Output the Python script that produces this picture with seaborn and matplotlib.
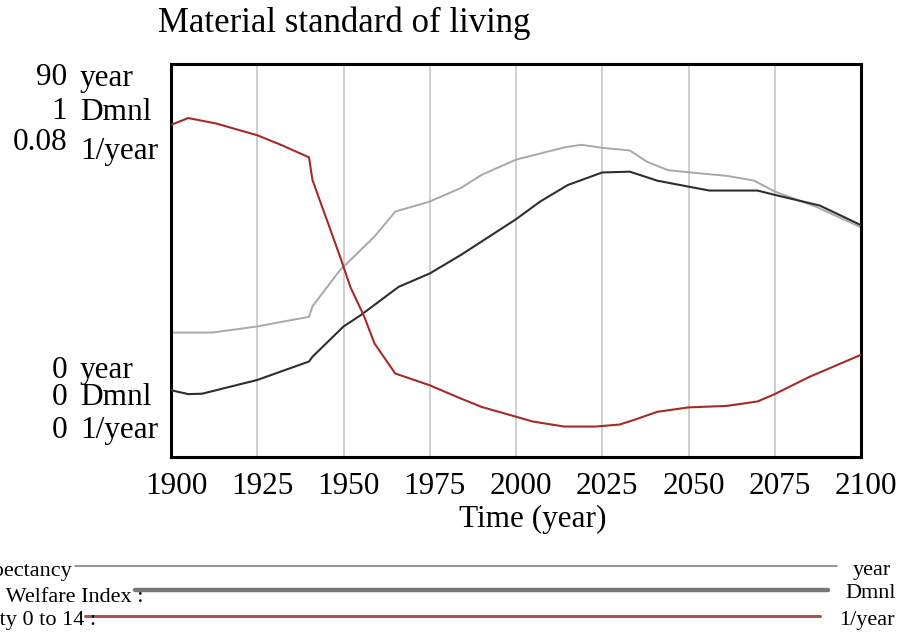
import numpy as np
import pandas as pd
import seaborn as sns
import matplotlib.pyplot as plt
import matplotlib.transforms as mtransforms

# =========================
# Data
# =========================
LIFE_YEARS = [1900, 1912, 1925, 1940, 1941, 1949, 1959, 1965, 1975, 1984, 1990, 2000,
              2014, 2019, 2025, 2033, 2038, 2044, 2050, 2061, 2069, 2075, 2087, 2100]
LIFE_EXPECTANCY = [28.5, 28.5, 29.9, 32.1, 34.5, 42.8, 50.5, 56.2, 58.5, 61.6, 64.6, 68.1,
                   70.9, 71.5, 70.8, 70.2, 67.6, 65.7, 65.2, 64.4, 63.3, 60.8, 57.3, 52.6]

HWI_YEARS = [1900, 1905, 1909, 1925, 1940, 1941, 1950, 1955, 1966, 1975, 1984, 2000,
             2007, 2015, 2025, 2033, 2041, 2050, 2056, 2070, 2075, 2088, 2100]
HUMAN_WELFARE_INDEX = [0.170, 0.160, 0.161, 0.196, 0.243, 0.255, 0.332, 0.361, 0.433, 0.467,
                       0.514, 0.605, 0.650, 0.692, 0.724, 0.726, 0.703, 0.688, 0.678, 0.678,
                       0.667, 0.640, 0.590]

MORT_YEARS = [1900, 1905, 1913, 1925, 1932, 1940, 1941, 1949, 1952, 1956, 1959, 1965, 1975,
              1983, 1990, 2000, 2005, 2014, 2023, 2030, 2034, 2041, 2050, 2061, 2070, 2075,
              2085, 2100]
MORTALITY_0_14 = [0.0676, 0.0690, 0.0679, 0.0655, 0.0635, 0.0610, 0.0564, 0.0408, 0.0346,
                  0.0286, 0.0231, 0.0170, 0.0146, 0.0122, 0.0102, 0.0082, 0.0072, 0.0062,
                  0.0062, 0.0066, 0.0075, 0.0092, 0.0101, 0.0104, 0.0113, 0.0128, 0.0163,
                  0.0208]

X_TICKS = [1900, 1925, 1950, 1975, 2000, 2025, 2050, 2075, 2100]

# axis scales: (max, min, unit)
SCALES = [("90", "0", "year"), ("1", "0", "Dmnl"), ("0.08", "0", "1/year")]
SERIES_NAMES = ["Life expectancy", "Human Welfare Index :", "Mortality 0 to 14 :"]

TITLE = "Material standard of living"
XLABEL = "Time (year)"

GRAY = "#a8a8a8"
DARK = "#2e2e2e"
RED = "#a52a2a"

W, H = 906, 639
FS = 22.5


def fx(px):
    return px / W


def fy(py):
    return 1 - py / H


def main():
    sns.set_theme(style="white")
    plt.rcParams["font.family"] = ["Liberation Serif", "DejaVu Serif"]
    plt.rcParams["text.color"] = "black"

    fig = plt.figure(figsize=(W / 100, H / 100), dpi=100)
    ax = fig.add_axes([fx(171), fy(457), fx(861) - fx(171), fy(64) - fy(457)])
    ax2 = ax.twinx()
    ax3 = ax.twinx()

    df_life = pd.DataFrame({"year": LIFE_YEARS, "value": LIFE_EXPECTANCY})
    df_hwi = pd.DataFrame({"year": HWI_YEARS, "value": HUMAN_WELFARE_INDEX})
    df_mort = pd.DataFrame({"year": MORT_YEARS, "value": MORTALITY_0_14})

    sns.lineplot(data=df_life, x="year", y="value", ax=ax, color=GRAY, lw=1.4, estimator=None)
    sns.lineplot(data=df_hwi, x="year", y="value", ax=ax2, color=DARK, lw=1.5, estimator=None)
    sns.lineplot(data=df_mort, x="year", y="value", ax=ax3, color=RED, lw=1.5, estimator=None)

    ax.set_ylim(0, 90)
    ax2.set_ylim(0, 1)
    ax3.set_ylim(0, 0.08)
    ax.set_xlim(1900, 2100)

    ax.set_xticks(X_TICKS)
    ax.set_xticklabels([str(t) for t in X_TICKS])
    ax.tick_params(axis="x", length=0, pad=11, labelsize=FS, colors="black")
    shift = mtransforms.ScaledTranslation(5 / 100, 0, fig.dpi_scale_trans)
    for lab in ax.get_xticklabels():
        lab.set_transform(lab.get_transform() + shift)
    ax.grid(axis="x", color="#cfcfcf", lw=1.4)
    ax.grid(axis="y", visible=False)
    for a in (ax, ax2, ax3):
        a.set_yticks([])
        a.set_xlabel("")
        a.set_ylabel("")
    for a in (ax2, ax3):
        for s in a.spines.values():
            s.set_visible(False)
    for s in ax.spines.values():
        s.set_visible(True)
        s.set_color("black")
        s.set_linewidth(2.2)

    # title and x label
    fig.text(fx(158), fy(32), TITLE, fontsize=25, ha="left", va="baseline")
    fig.text(fx(533), fy(519), XLABEL, fontsize=FS, ha="center", va="center")

    # stacked y-axis scale labels
    top_base = [85, 119, 150]
    bot_base = [378, 405, 438]
    unit_shift = [1, 1, 9]
    for i, (hi, lo, unit) in enumerate(SCALES):
        fig.text(fx(67), fy(top_base[i]), hi, fontsize=FS, ha="right", va="baseline")
        fig.text(fx(80), fy(top_base[i] + unit_shift[i]), unit, fontsize=FS, ha="left", va="baseline")
        fig.text(fx(67), fy(bot_base[i]), lo, fontsize=FS, ha="right", va="baseline")
        fig.text(fx(80), fy(bot_base[i]), unit, fontsize=FS, ha="left", va="baseline")

    # legend rows (clipped at left edge like the original)
    leg_y = [566, 590, 616]
    leg_x0 = [75, 135, 85]
    leg_x1 = [837, 828, 820]
    text_right = [72, 143, 96]
    text_y = [571, 597, 621]
    unit_x = [853, 845, 839]
    unit_y = [570, 594, 620]
    leg_col = ["#8c8c8c", "#777777", "#b05050"]
    leg_lw = [1.3, 3.2, 2.2]
    for i, name in enumerate(SERIES_NAMES):
        fig.text(fx(text_right[i]), fy(text_y[i]), name, fontsize=16, ha="right", va="center")
        fig.add_artist(plt.Line2D([fx(leg_x0[i]), fx(leg_x1[i])], [fy(leg_y[i]), fy(leg_y[i])],
                                  color=leg_col[i], lw=leg_lw[i]))
        fig.text(fx(unit_x[i]), fy(unit_y[i]), SCALES[i][2], fontsize=16, ha="left", va="center")

    fig.savefig("out.png", dpi=100)
    plt.close(fig)


if __name__ == "__main__":
    main()
